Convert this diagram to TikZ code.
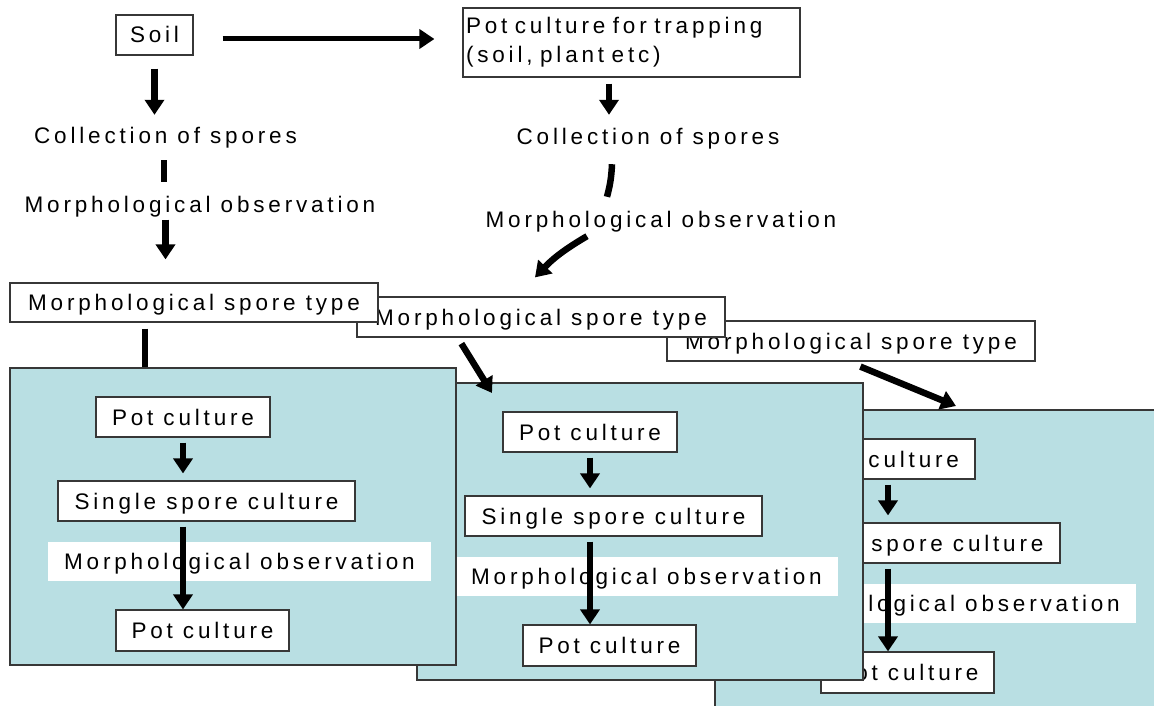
\documentclass[tikz,border=0pt]{standalone}
\usepackage{fontspec}
\setmainfont{Liberation Sans}[LetterSpace=17]
\usepackage{tikz}
\usetikzlibrary{arrows.meta,calc}
\definecolor{panelblue}{RGB}{185,223,227}
\definecolor{edgegray}{RGB}{55,55,55}

\tikzset{
  box/.style={draw=edgegray, line width=1.2pt, fill=white, inner sep=0pt},
  captext/.style={text height=16pt, text depth=0pt, inner sep=0pt},
  panel/.style={draw=edgegray, line width=1.5pt, fill=panelblue, anchor=north west,
    minimum width=446pt, minimum height=297pt, inner sep=0pt},
  arr/.style={line width=6.5pt, -{Triangle[width=19pt,length=15pt]}},
  bar/.style={line width=6.5pt}
}

\begin{document}
\begin{tikzpicture}[x=1pt, y=-1pt, every node/.style={font=\fontsize{22.5}{29}\selectfont}]
\useasboundingbox (0,0) rectangle (1154,706);
\clip (0,0) rectangle (1154,706);

\foreach \i/\px/\py in {3/714/409, 2/416/382, 1/9/367}{
  \begin{scope}[shift={(\px,\py)}]
    \node[panel] (p\i) at (0,0) {};
    \node[box, captext, minimum width=174pt, minimum height=40pt] (pc\i) at (174,50) {Pot culture};
    \node[box, captext, minimum width=297pt, minimum height=40pt] (ss\i) at (197.5,134) {Single spore culture};
    \node[captext, fill=white, minimum width=383pt, minimum height=39pt] (mo\i) at (230.5,194.5) {Morphological observation};
    \node[box, captext, minimum width=173pt, minimum height=41pt] (pd\i) at (193.5,263.5) {Pot culture};
    \draw[arr, shorten <=5pt, shorten >=7pt] (pc\i.south) -- (pc\i.south |- ss\i.north);
    \draw[arr, shorten <=5pt] (pc\i.south |- ss\i.south) -- (pc\i.south |- pd\i.north);
  \end{scope}
}

\node[box, captext, minimum width=368pt, minimum height=40pt] (type3) at (851,341) {Morphological spore type};
\node[box, captext, minimum width=368pt, minimum height=40pt] (type2) at (541,317) {Morphological spore type};
\node[box, captext, minimum width=368pt, minimum height=39pt] (type1) at (194,302.5) {Morphological spore type};

\node[box, captext, minimum width=77pt, minimum height=40pt] (soil) at (154.5,35) {Soil};
\node[box, align=left, text width=331pt, inner xsep=3pt, minimum width=337pt, minimum height=69pt] (trap) at (631.5,42.5)
  {Pot culture for trapping\\(soil, plant etc)};

\node[captext] (coll1) at (165.5,136) {Collection of spores};
\node[captext] (morph1) at (200,204.5) {Morphological observation};
\node[captext] (coll2) at (648,137) {Collection of spores};
\node[captext] (morph2) at (661,219) {Morphological observation};

\draw[arr, line width=5pt, shorten <=29pt, shorten >=28pt] ([yshift=-4pt]soil.east) -- ([yshift=-4pt]soil.east -| trap.west);
\draw[arr, shorten <=13pt, shorten >=13pt] (soil.south) -- (soil.south |- coll1.north);
\draw[bar, shorten <=16pt, shorten >=14.5pt] ([xshift=-1.5pt]coll1.south) -- ([xshift=-1.5pt]coll1.south |- morph1.north);
\draw[arr, shorten <=7pt, shorten >=23pt] (coll1.south |- morph1.south) -- (coll1.south |- type1.north);
\draw[bar, shorten <=6pt] ([xshift=-49pt]type1.south) -- ([xshift=-49pt]type1.south |- p1.north);

\draw[arr, shorten <=6pt, shorten >=14pt] ([xshift=-22.5pt]trap.south) -- ([xshift=-22.5pt]trap.south |- coll2.north);
\draw[bar] ($(coll2.south)+(-36,19)$) to[bend left=6] ($(morph2.north)+(-54,-14)$);
\draw[arr] ($(morph2.south)+(-74,9)$) to[bend right=8] ($(type2.north)+(-6,-19)$);
\draw[arr] ($(type2.south west)+(105,6)$) -- ($(p2.north west)+(76,11)$);
\draw[arr] ($(type3.south west)+(194,5)$) -- ($(p3.north west)+(242,-3)$);
\end{tikzpicture}
\end{document}
